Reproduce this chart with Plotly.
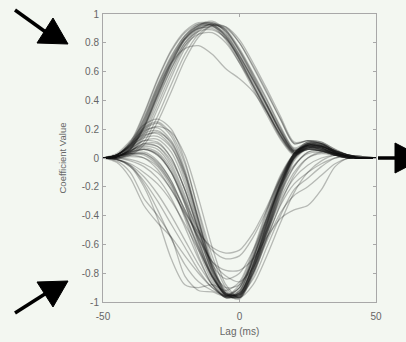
import plotly.graph_objects as go

lag_ms = [-50, -45, -40, -35, -30, -25, -20, -15, -10, -5, 0, 5, 10, 15, 20, 25, 30, 35, 40, 45, 50]

# positive-lobe filters (coefficient values at each lag)
pos_a = [0, 0.02, 0.10, 0.30, 0.54, 0.74, 0.87, 0.93, 0.92, 0.82, 0.66, 0.48, 0.30, 0.13, 0.02, 0.07, 0.06, 0.02, 0.0, 0, 0]
pos_b = [0, 0.01, 0.07, 0.24, 0.47, 0.68, 0.84, 0.92, 0.94, 0.87, 0.72, 0.55, 0.37, 0.19, 0.05, 0.09, 0.08, 0.04, 0.01, 0, 0]
pos_c = [0, 0.01, 0.05, 0.18, 0.40, 0.62, 0.80, 0.90, 0.93, 0.89, 0.76, 0.59, 0.41, 0.22, 0.07, 0.11, 0.10, 0.05, 0.02, 0.01, 0]
pos_d = [0, 0.00, 0.02, 0.09, 0.25, 0.46, 0.68, 0.84, 0.92, 0.91, 0.82, 0.66, 0.48, 0.29, 0.11, 0.12, 0.11, 0.06, 0.02, 0.01, 0]
pos_e = [0, 0.01, 0.06, 0.20, 0.42, 0.62, 0.78, 0.86, 0.87, 0.80, 0.66, 0.50, 0.33, 0.16, 0.04, 0.08, 0.07, 0.03, 0.01, 0, 0]
pos_f = [0, 0.01, 0.08, 0.25, 0.48, 0.66, 0.76, 0.78, 0.72, 0.62, 0.55, 0.46, 0.32, 0.16, 0.04, 0.06, 0.05, 0.02, 0, 0, 0]
pos_g = [0, 0.02, 0.09, 0.27, 0.50, 0.70, 0.85, 0.93, 0.93, 0.85, 0.69, 0.51, 0.33, 0.15, 0.03, 0.07, 0.07, 0.03, 0.01, 0, 0]
pos_h = [0, 0.01, 0.06, 0.21, 0.43, 0.65, 0.82, 0.91, 0.94, 0.88, 0.74, 0.57, 0.38, 0.20, 0.06, 0.10, 0.09, 0.04, 0.01, 0, 0]
pos_i = [0, 0.01, 0.04, 0.16, 0.37, 0.59, 0.78, 0.89, 0.93, 0.88, 0.75, 0.58, 0.40, 0.21, 0.06, 0.09, 0.08, 0.05, 0.02, 0, 0]
pos_j = [0, 0.02, 0.08, 0.26, 0.49, 0.69, 0.83, 0.90, 0.90, 0.83, 0.68, 0.50, 0.32, 0.15, 0.03, 0.06, 0.05, 0.02, 0, 0, 0]
pos_k = [0, 0.01, 0.07, 0.23, 0.46, 0.67, 0.83, 0.91, 0.92, 0.86, 0.71, 0.54, 0.36, 0.18, 0.05, 0.09, 0.08, 0.04, 0.01, 0, 0]
pos_l = [0, 0.02, 0.11, 0.31, 0.55, 0.75, 0.88, 0.94, 0.93, 0.84, 0.68, 0.50, 0.32, 0.14, 0.03, 0.08, 0.07, 0.03, 0.01, 0, 0]
pos_m = [0, 0.01, 0.04, 0.14, 0.34, 0.56, 0.76, 0.88, 0.93, 0.91, 0.80, 0.63, 0.45, 0.27, 0.10, 0.12, 0.11, 0.06, 0.02, 0.01, 0]
pos_n = [0, 0.01, 0.06, 0.22, 0.45, 0.66, 0.82, 0.90, 0.91, 0.85, 0.71, 0.54, 0.36, 0.18, 0.05, 0.10, 0.10, 0.05, 0.02, 0, 0]
pos_o = [0, 0.00, 0.03, 0.11, 0.29, 0.51, 0.72, 0.86, 0.92, 0.90, 0.80, 0.64, 0.46, 0.27, 0.10, 0.12, 0.10, 0.05, 0.02, 0.01, 0]
pos_p = [0, 0.02, 0.09, 0.28, 0.51, 0.71, 0.85, 0.92, 0.92, 0.84, 0.69, 0.52, 0.34, 0.16, 0.04, 0.07, 0.06, 0.03, 0.01, 0, 0]
pos_q = [0, 0.01, 0.07, 0.22, 0.44, 0.64, 0.80, 0.88, 0.89, 0.83, 0.70, 0.54, 0.37, 0.19, 0.05, 0.09, 0.09, 0.05, 0.02, 0, 0]
pos_r = [0, 0.01, 0.06, 0.21, 0.44, 0.66, 0.83, 0.92, 0.95, 0.89, 0.74, 0.56, 0.37, 0.18, 0.04, 0.08, 0.08, 0.04, 0.01, 0, 0]

# negative-lobe filters
neg_01 = [0, 0.02, 0.09, 0.16, 0.17, 0.08, -0.15, -0.48, -0.78, -0.95, -0.94, -0.75, -0.48, -0.20, 0.01, 0.09, 0.08, 0.04, 0.01, 0, 0]
neg_02 = [0, 0.03, 0.12, 0.23, 0.27, 0.20, -0.02, -0.38, -0.72, -0.93, -0.96, -0.78, -0.50, -0.22, 0.00, 0.08, 0.07, 0.03, 0.01, 0, 0]
neg_03 = [0, 0.02, 0.09, 0.18, 0.22, 0.18, 0.02, -0.28, -0.62, -0.88, -0.97, -0.82, -0.55, -0.26, -0.02, 0.07, 0.07, 0.03, 0.01, 0, 0]
neg_04 = [0, 0.01, 0.05, 0.08, 0.06, -0.06, -0.28, -0.56, -0.82, -0.96, -0.93, -0.72, -0.45, -0.18, 0.02, 0.09, 0.08, 0.04, 0.01, 0, 0]
neg_05 = [0, 0.00, 0.01, 0.00, -0.06, -0.20, -0.40, -0.64, -0.86, -0.97, -0.93, -0.70, -0.42, -0.16, 0.03, 0.10, 0.09, 0.05, 0.02, 0, 0]
neg_06 = [0, -0.01, -0.05, -0.13, -0.25, -0.40, -0.57, -0.74, -0.88, -0.96, -0.90, -0.68, -0.40, -0.14, 0.03, 0.09, 0.08, 0.04, 0.01, 0, 0]
neg_07 = [0, -0.02, -0.10, -0.28, -0.40, -0.55, -0.82, -0.92, -0.93, -0.96, -0.88, -0.66, -0.38, -0.13, 0.02, 0.07, 0.06, 0.03, 0.01, 0, 0]
neg_08 = [0, -0.01, -0.06, -0.20, -0.42, -0.70, -0.88, -0.90, -0.88, -0.92, -0.86, -0.64, -0.36, -0.12, 0.03, 0.08, 0.06, 0.03, 0.00, 0, 0]
neg_09 = [0, 0.01, 0.04, 0.06, 0.02, -0.10, -0.30, -0.50, -0.64, -0.70, -0.68, -0.55, -0.36, -0.15, 0.01, 0.06, 0.05, 0.02, 0, 0, 0]
neg_10 = [0, 0.01, 0.03, 0.04, -0.02, -0.16, -0.36, -0.56, -0.72, -0.78, -0.78, -0.70, -0.55, -0.42, -0.36, -0.33, -0.22, -0.06, 0.0, 0, 0]
neg_11 = [0, 0.01, 0.05, 0.10, 0.10, 0.00, -0.22, -0.50, -0.76, -0.92, -0.97, -0.88, -0.68, -0.45, -0.24, -0.10, -0.02, 0.02, 0.01, 0, 0]
neg_12 = [0, 0.00, 0.02, 0.03, -0.03, -0.16, -0.38, -0.62, -0.83, -0.94, -0.95, -0.84, -0.62, -0.40, -0.22, -0.14, -0.06, 0.00, 0.01, 0, 0]
neg_13 = [0, 0.02, 0.10, 0.20, 0.24, 0.15, -0.08, -0.42, -0.74, -0.94, -0.98, -0.80, -0.52, -0.23, 0.00, 0.10, 0.09, 0.04, 0.01, 0, 0]
neg_14 = [0, 0.01, 0.06, 0.12, 0.13, 0.04, -0.18, -0.50, -0.80, -0.96, -0.96, -0.76, -0.47, -0.19, 0.02, 0.10, 0.10, 0.05, 0.02, 0, 0]
neg_15 = [0, 0.01, 0.02, 0.00, -0.08, -0.22, -0.38, -0.52, -0.62, -0.66, -0.64, -0.52, -0.34, -0.14, 0.02, 0.06, 0.05, 0.02, 0, 0, 0]
neg_16 = [0, -0.03, -0.14, -0.33, -0.45, -0.55, -0.68, -0.80, -0.90, -0.96, -0.92, -0.70, -0.44, -0.20, -0.05, 0.03, 0.04, 0.02, 0.0, 0, 0]
neg_17 = [0, 0.00, 0.03, 0.06, 0.03, -0.10, -0.32, -0.58, -0.82, -0.95, -0.94, -0.80, -0.58, -0.38, -0.26, -0.20, -0.12, -0.04, 0.0, 0, 0]
neg_18 = [0, 0.02, 0.08, 0.14, 0.15, 0.07, -0.12, -0.44, -0.76, -0.94, -0.95, -0.74, -0.46, -0.18, 0.03, 0.11, 0.10, 0.05, 0.01, 0, 0]
neg_19 = [0, 0.02, 0.08, 0.15, 0.18, 0.11, -0.10, -0.43, -0.75, -0.94, -0.97, -0.78, -0.50, -0.21, 0.01, 0.09, 0.08, 0.04, 0.01, 0, 0]
neg_20 = [0, 0.01, 0.04, 0.06, 0.02, -0.10, -0.32, -0.60, -0.84, -0.97, -0.95, -0.74, -0.46, -0.18, 0.02, 0.10, 0.09, 0.04, 0.01, 0, 0]
neg_21 = [0, 0.02, 0.10, 0.19, 0.21, 0.12, -0.10, -0.44, -0.76, -0.95, -0.97, -0.77, -0.49, -0.21, 0.01, 0.09, 0.08, 0.04, 0.01, 0, 0]
neg_22 = [0, 0.00, -0.02, -0.06, -0.14, -0.28, -0.48, -0.70, -0.88, -0.97, -0.92, -0.70, -0.42, -0.15, 0.03, 0.09, 0.08, 0.04, 0.01, 0, 0]
neg_23 = [0, 0.01, 0.05, 0.09, 0.08, -0.02, -0.22, -0.52, -0.80, -0.95, -0.96, -0.78, -0.52, -0.26, -0.06, 0.04, 0.05, 0.03, 0.01, 0, 0]
neg_24 = [0, 0.02, 0.07, 0.12, 0.11, 0.00, -0.22, -0.50, -0.74, -0.84, -0.80, -0.64, -0.42, -0.19, 0.00, 0.07, 0.06, 0.03, 0.01, 0, 0]
neg_25 = [0, 0.01, 0.03, 0.03, -0.04, -0.18, -0.42, -0.68, -0.88, -0.97, -0.94, -0.76, -0.52, -0.30, -0.14, -0.05, 0.00, 0.02, 0.01, 0, 0]
neg_26 = [0, 0.02, 0.11, 0.21, 0.25, 0.17, -0.04, -0.36, -0.68, -0.90, -0.97, -0.80, -0.53, -0.24, -0.01, 0.08, 0.07, 0.03, 0.01, 0, 0]
neg_27 = [0, -0.01, -0.04, -0.10, -0.18, -0.30, -0.46, -0.64, -0.82, -0.94, -0.95, -0.76, -0.50, -0.24, -0.06, 0.04, 0.05, 0.03, 0.01, 0, 0]
neg_28 = [0, 0.01, 0.04, 0.07, 0.04, -0.08, -0.30, -0.58, -0.82, -0.95, -0.96, -0.80, -0.56, -0.33, -0.18, -0.10, -0.04, 0.00, 0.01, 0, 0]
neg_29 = [0, 0.02, 0.09, 0.17, 0.19, 0.10, -0.12, -0.46, -0.78, -0.96, -0.95, -0.74, -0.45, -0.17, 0.03, 0.11, 0.10, 0.05, 0.02, 0, 0]
neg_30 = [0, 0.01, 0.05, 0.10, 0.08, -0.04, -0.26, -0.54, -0.78, -0.90, -0.88, -0.72, -0.50, -0.28, -0.10, 0.00, 0.03, 0.02, 0.01, 0, 0]
neg_31 = [0, 0.00, -0.01, -0.04, -0.10, -0.22, -0.40, -0.62, -0.82, -0.95, -0.94, -0.74, -0.47, -0.20, 0.00, 0.08, 0.07, 0.03, 0.01, 0, 0]
neg_32 = [0, -0.01, -0.06, -0.16, -0.30, -0.46, -0.62, -0.78, -0.90, -0.96, -0.90, -0.68, -0.42, -0.17, 0.01, 0.07, 0.06, 0.03, 0.01, 0, 0]
neg_33 = [0, 0.01, 0.03, 0.02, -0.05, -0.18, -0.36, -0.55, -0.72, -0.82, -0.86, -0.76, -0.56, -0.32, -0.12, 0.00, 0.04, 0.03, 0.01, 0, 0]
neg_34 = [0, -0.01, -0.05, -0.18, -0.36, -0.56, -0.74, -0.86, -0.92, -0.95, -0.90, -0.70, -0.44, -0.18, 0.00, 0.06, 0.05, 0.02, 0, 0, 0]

filters = [pos_a, pos_b, pos_c, pos_d, pos_e, pos_f, pos_g, pos_h, pos_i, pos_j,
           pos_k, pos_l, pos_m, pos_n, pos_o, pos_p, pos_q, pos_r,
           neg_01, neg_02, neg_03, neg_04, neg_05, neg_06, neg_07, neg_08, neg_09, neg_10,
           neg_11, neg_12, neg_13, neg_14, neg_15, neg_16, neg_17, neg_18, neg_19, neg_20,
           neg_21, neg_22, neg_23, neg_24, neg_25, neg_26, neg_27, neg_28, neg_29, neg_30,
           neg_31, neg_32, neg_33, neg_34]

x_ticks = [-50, 0, 50]
x_ticktext = ["-50", "0", "50"]
y_ticks = [-1, -0.8, -0.6, -0.4, -0.2, 0, 0.2, 0.4, 0.6, 0.8, 1]
y_ticktext = ["-1", "-0.8", "-0.6", "-0.4", "-0.2", "0", "0.2", "0.4", "0.6", "0.8", "1"]

BG = "#f3f7f1"
W, H = 406, 342
L, R, T, B = 103, 30, 14, 40
PW, PH = W - L - R, H - T - B

def px(xp):
    return (xp - L) / PW

def py(yp):
    return (H - B - yp) / PH

fig = go.Figure()
for f in filters:
    fig.add_trace(go.Scatter(x=lag_ms, y=f, mode="lines",
                             line=dict(color="rgba(20,20,20,0.27)", width=1.3, shape="spline", smoothing=0.8),
                             hoverinfo="skip", showlegend=False))

def tri(p1, p2, p3):
    return "M {} {} L {} {} L {} {} Z".format(px(p1[0]), py(p1[1]), px(p2[0]), py(p2[1]), px(p3[0]), py(p3[1]))

shapes = [
    # top-left arrow
    dict(type="line", xref="paper", yref="paper", x0=px(15), y0=py(10), x1=px(47), y1=py(33),
         line=dict(color="black", width=3.5)),
    dict(type="path", xref="paper", yref="paper", path=tri((53, 18), (37, 43), (68, 44)),
         fillcolor="black", line=dict(color="black", width=1)),
    # bottom-left arrow
    dict(type="line", xref="paper", yref="paper", x0=px(15), y0=py(313), x1=px(48), y1=py(292),
         line=dict(color="black", width=3.5)),
    dict(type="path", xref="paper", yref="paper", path=tri((37, 282), (53, 307), (68, 281)),
         fillcolor="black", line=dict(color="black", width=1)),
    # right arrow
    dict(type="line", xref="paper", yref="paper", x0=px(378), y0=py(158), x1=px(397), y1=py(158),
         line=dict(color="black", width=3.5)),
    dict(type="path", xref="paper", yref="paper", path=tri((395, 143), (395, 173), (424, 158)),
         fillcolor="black", line=dict(color="black", width=1)),
]

FONT = "Liberation Sans, Arial, sans-serif"
axis_common = dict(showline=True, linecolor="#a8a8a8", linewidth=1, mirror="ticks",
                   ticks="inside", ticklen=3, tickcolor="#a8a8a8", showgrid=False, zeroline=False,
                   automargin=False,
                   tickfont=dict(family=FONT, size=10, color="#666666"))

fig.update_layout(
    width=W, height=H,
    margin=dict(l=L, r=R, t=T, b=B, pad=0, autoexpand=False),
    paper_bgcolor=BG, plot_bgcolor=BG,
    shapes=shapes,
    xaxis=dict(range=[-50, 50], tickvals=x_ticks, ticktext=x_ticktext, ticklabelstandoff=5,
               title=dict(text="Lag (ms)", standoff=6, font=dict(family=FONT, size=10, color="#666666")),
               **axis_common),
    yaxis=dict(range=[-1, 1], tickvals=y_ticks, ticktext=y_ticktext, ticklabelstandoff=1,
               title=dict(text="Coefficient Value", standoff=13, font=dict(family=FONT, size=9.5, color="#666666")),
               **axis_common),
)

fig.write_html("out.html", config={"displayModeBar": False},
               post_script="document.body.style.margin='0';document.body.style.background='" + BG + "';")
